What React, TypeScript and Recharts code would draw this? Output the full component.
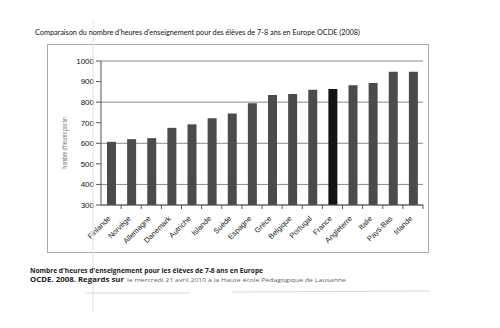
import React from 'react';
import { BarChart, Bar, Cell, XAxis, YAxis, CartesianGrid } from 'recharts';

const countries = ['Finlande', 'Norvège', 'Allemagne', 'Danemark', 'Autriche', 'Islande', 'Suède', 'Espagne', 'Grèce', 'Belgique', 'Portugal', 'France', 'Angleterre', 'Italie', 'Pays-Bas', 'Irlande'];
const hours = [607, 620, 625, 675, 692, 722, 745, 795, 835, 840, 860, 864, 882, 893, 948, 948];
const yTicks = [300, 400, 500, 600, 700, 800, 900, 1000];
const highlight = 'France';

const data = countries.map((name, i) => ({ name, hours: hours[i] }));

const PLOT_LEFT = 101;
const PLOT_RIGHT = 423;
const BAND = (PLOT_RIGHT - PLOT_LEFT) / countries.length;

const XTick = (props: any) => {
  const { x, y, payload } = props;
  const ax = x;
  const ay = y + 6;
  return (
    <g>
      <line x1={x + BAND / 2} y1={y - 8} x2={x + BAND / 2} y2={y - 4} stroke="#555" />
      <text
        x={ax}
        y={ay}
        textAnchor="end"
        transform={`rotate(-45, ${ax}, ${ay})`}
        fontSize={7.5}
        fontFamily="Liberation Sans"
        fill="#222"
      >
        {payload.value}
      </text>
    </g>
  );
};

const App: React.FC = () => {
  return (
    <div style={{ position: 'absolute', left: 0, top: 0, width: 500, height: 328, background: '#fff' }}>
      {/* outer frame of the scanned figure */}
      <div style={{ position: 'absolute', left: 47, top: 44, width: 380, height: 207, border: '1px solid #aaa' }} />

      <div style={{ position: 'absolute', left: 0, top: 0 }}>
        <BarChart width={500} height={328} data={data} margin={{ top: 61, right: 77, left: 51, bottom: 73 }} barSize={9}>
          <CartesianGrid vertical={false} stroke="#8a8a8a" />
          <XAxis
            dataKey="name"
            interval={0}
            height={50}
            tickLine={false}
            axisLine={{ stroke: '#555' }}
            tick={<XTick />}
          />
          <YAxis
            domain={[300, 1000]}
            ticks={yTicks}
            width={50}
            axisLine={{ stroke: '#555' }}
            tickLine={{ stroke: '#555' }}
            tickSize={5}
            tick={{ fontSize: 8, fill: '#111', fontFamily: 'Liberation Sans' }}
          />
          <YAxis yAxisId="right" orientation="right" width={0} tick={false} tickLine={false} axisLine={{ stroke: '#999' }} />
          <Bar dataKey="hours" isAnimationActive={false}>
            {data.map((d) => (
              <Cell key={d.name} fill={d.name === highlight ? '#141414' : '#4b4b4b'} />
            ))}
          </Bar>
        </BarChart>
      </div>

      <svg width={500} height={328} style={{ position: 'absolute', left: 0, top: 0, pointerEvents: 'none' }}>
        <line x1={93} y1={20} x2={93} y2={312} stroke="#e2e2e2" />
        <line x1={85} y1={293} x2={190} y2={293} stroke="#d8d8d8" />
        <line x1={232} y1={292} x2={430} y2={291} stroke="#d8d8d8" />
        <text
          x={67}
          y={143}
          transform="rotate(-90, 67, 143)"
          textAnchor="middle"
          fontSize={7}
          fontFamily="Liberation Sans"
          fill="#777"
          textLength={52}
          lengthAdjust="spacingAndGlyphs"
        >
          Nombre d'heures par an
        </text>
        <text x={35} y={35} fontSize={8} fontFamily="Lato" fill="#111" textLength={325} lengthAdjust="spacingAndGlyphs">
          Comparaison du nombre d'heures d'enseignement pour des élèves de 7-8 ans en Europe OCDE (2008)
        </text>
        <text x={30} y={273} fontSize={7.5} fontWeight="bold" fontFamily="Open Sans" fill="#222" textLength={233} lengthAdjust="spacingAndGlyphs">
          Nombre d'heures d'enseignement pour les élèves de 7-8 ans en Europe
        </text>
        <text x={30} y={282} fontSize={7.5} fontWeight="bold" fontFamily="Open Sans" fill="#222" textLength={94} lengthAdjust="spacingAndGlyphs">
          OCDE. 2008. Regards sur
        </text>
        <text x={127} y={282} fontSize={6} fontFamily="Open Sans" fill="#666" textLength={219} lengthAdjust="spacingAndGlyphs">
          le mercredi 21 avril 2010 à la Haute école Pédagogique de Lausanne
        </text>
      </svg>
    </div>
  );
};

export default App;
